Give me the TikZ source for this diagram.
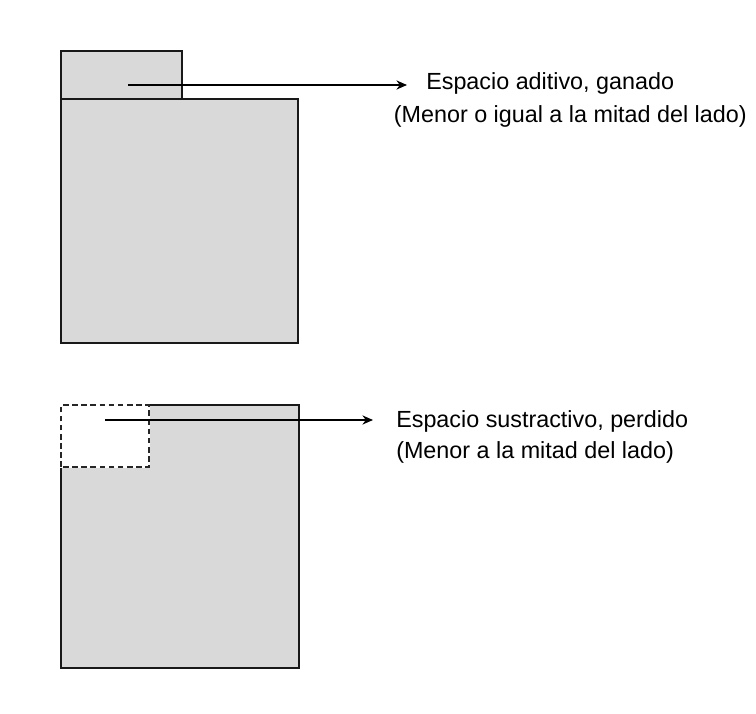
\documentclass[tikz,border=0pt]{standalone}
\usepackage{fontspec}
\setmainfont{Liberation Sans}
\usepackage{tikz}
\usetikzlibrary{arrows.meta}
\tikzset{>={Stealth[length=7.5pt,width=6.5pt]}}
\usetikzlibrary{shapes,positioning}

\tikzset{caja/.style={draw=black!90,fill=black!15,line width=1.3pt},
  hueco/.style={draw=black!85,fill=white,line width=1.3pt,dash pattern=on 4pt off 2.5pt},
  flecha/.style={->,line width=0.9pt,shorten >=0pt},
  texto/.style={inner sep=0pt,anchor=west,font=\fontsize{16.6}{20}\selectfont}}

\begin{document}
\begin{tikzpicture}

  \useasboundingbox (0,0) rectangle (18.9,17.825);

  %% arriba: espacio ganado
  \draw [caja] (1.525,15.35) rectangle (4.55,16.55);
  \draw [caja] (1.525,9.25) rectangle (7.45,15.35);

  \coordinate (s1) at (3.2,15.7);
  \coordinate (e1) at (10.175,15.7);
  \draw [flecha] (s1) -- (e1);

  \node [texto] (t1) at (10.65,15.75) {Espacio aditivo, ganado};
  \node [texto] (t2) at (9.84,14.925) {(Menor o igual a la mitad del lado)};


  %% abajo: espacio perdido
  \draw [caja] (1.525,1.125) rectangle (7.475,7.7);
  \draw [white,fill=white,line width=1.4pt] (1.525,6.15) rectangle (3.725,7.7);
  \draw [hueco] (1.525,6.15) rectangle (3.725,7.7);

  \coordinate (s2) at (2.625,7.325);
  \coordinate (e2) at (9.325,7.325);
  \draw [flecha] (s2) -- (e2);

  \node [texto] (t3) at (9.9,7.3) {Espacio sustractivo, perdido};
  \node [texto] (t4) at (9.9,6.525) {(Menor a la mitad del lado)};

\end{tikzpicture}
\end{document}
